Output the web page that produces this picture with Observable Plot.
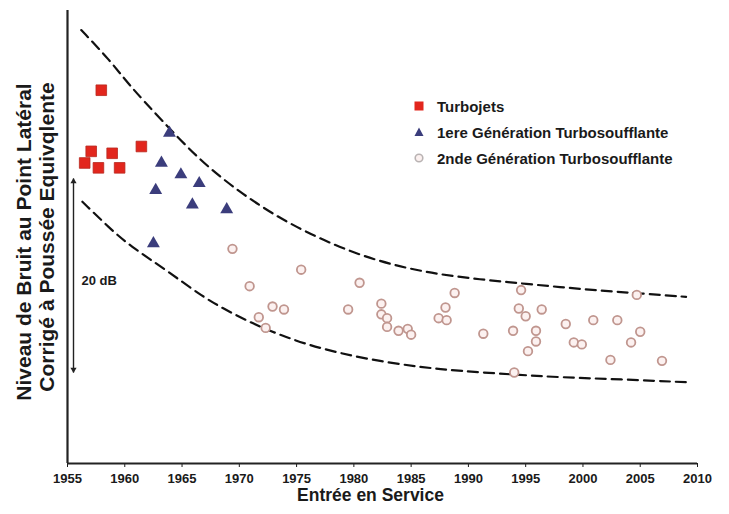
<!DOCTYPE html>
<html><head><meta charset="utf-8">
<script src="https://cdn.jsdelivr.net/npm/d3@7"></script>
<script src="https://cdn.jsdelivr.net/npm/@observablehq/plot@0.6"></script>
<style>
body{margin:0;background:#fff;}
#wrap{position:relative;width:729px;height:514px;font-family:"Liberation Sans",Arial,sans-serif;}
#legend{position:absolute;left:411px;top:93px;font-weight:bold;font-size:15px;color:#1a1a1a;}
.row{display:flex;align-items:center;height:26px;white-space:nowrap;}
.row svg{margin-right:10px;}
</style></head><body>
<div id="wrap"><div id="chart"></div><div id="legend"></div></div>
<script>
// Years on x, noise level (dB, arbitrary reference) on y
const seriesNames = ["Turbojets", "1ere Génération Turbosoufflante", "2nde Génération Turbosoufflante"];
const tickYears = [1955,1960,1965,1970,1975,1980,1985,1990,1995,2000,2005,2010];

const turbojetYear = [1957.95, 1957.07, 1958.9, 1961.45, 1956.5, 1957.7, 1959.55];
const turbojetDb   = [39.1, 32.8, 32.6, 33.3, 31.6, 31.1, 31.1];

const gen1Year = [1963.9, 1963.2, 1964.9, 1966.5, 1962.7, 1965.9, 1968.9, 1962.5];
const gen1Db   = [34.7, 31.6, 30.4, 29.5, 28.8, 27.3, 26.8, 23.3];

const gen2Year = [1969.4, 1975.4, 1970.9, 1980.5, 1972.9, 1973.9, 1979.5, 1971.7, 1972.3, 1982.4,
                  1982.4, 1982.9, 1982.9, 1983.9, 1984.7, 1985.0, 1988.0, 1987.4, 1988.1, 1988.8,
                  1991.3, 1994.6, 1994.4, 1995.0, 1996.4, 1993.9, 1995.9, 1995.9, 1995.2, 1994.0,
                  1998.5, 1999.2, 1999.9, 2000.9, 2003.0, 2005.0, 2004.2, 2002.4, 2006.9, 2004.7];
const gen2Db   = [22.75, 20.6, 18.9, 19.25, 16.8, 16.5, 16.5, 15.7, 14.6, 17.1,
                  16.0, 15.6, 14.7, 14.3, 14.5, 13.9, 16.7, 15.6, 15.4, 18.2,
                  14.0, 18.5, 16.6, 15.8, 16.5, 14.3, 14.3, 13.2, 12.2, 10.0,
                  15.0, 13.1, 12.9, 15.4, 15.4, 14.2, 13.1, 11.3, 11.2, 18.0];

const upperYear = [1956.2, 1958.7, 1960.4, 1963.0, 1966.5, 1970.0, 1973.5, 1977.0, 1980.5, 1984.0, 1987.5, 1991.0, 1994.5, 1998.0, 2001.5, 2005.0, 2009.0];
const upperDb   = [45.3, 42.2, 39.6, 36.3, 31.9, 28.6, 25.9, 23.8, 22.1, 20.9, 20.1, 19.6, 19.2, 18.8, 18.45, 18.15, 17.8];
const lowerYear = [1956.3, 1958.7, 1960.4, 1963.7, 1966.8, 1969.2, 1971.8, 1974.4, 1977.0, 1981.2, 1985.8, 1989.3, 1993.9, 1998.0, 2003.3, 2009.0];
const lowerDb   = [27.6, 24.85, 23.1, 20.5, 17.8, 16.2, 14.7, 13.5, 12.5, 11.35, 10.55, 10.15, 9.8, 9.5, 9.3, 9.0];

const spanDb = [10, 30];      // the "20 dB" scale bar
const spanLabel = "20 dB";
const xTitle = "Entrée en Service";
const yTitle1 = "Niveau de Bruit au Point Latéral";
const yTitle2 = "Corrigé à Poussée Equivqlente";

const zip = (xs, ys) => xs.map((x, i) => ({x, y: ys[i]}));
const turbojets = zip(turbojetYear, turbojetDb);
const gen1 = zip(gen1Year, gen1Db);
const gen2 = zip(gen2Year, gen2Db);
const upper = zip(upperYear, upperDb);
const lower = zip(lowerYear, lowerDb);

const C_RED = "#e2261d", C_TRI = "#3b3d7c", C_RING = "#c0968f", C_RINGFILL = "#fcf1f0";

const plot = Plot.plot({
  width: 729, height: 514,
  marginLeft: 67, marginRight: 32, marginTop: 10, marginBottom: 51,
  style: {fontFamily: "'Liberation Sans', Arial, sans-serif", fontWeight: "bold", background: "white", color: "#1a1a1a", overflow: "visible"},
  x: {domain: [1955, 2010]},
  y: {domain: [0.62, 47.32], axis: null},
  marks: [
    Plot.axisX({ticks: tickYears, tickFormat: d => String(d), tickSize: 4, tickPadding: 6, label: null, fontSize: 13, fontWeight: "bold", fill: "#1a1a1a"}),
    Plot.line(upper, {x: "x", y: "y", stroke: "#111", strokeWidth: 2.2, strokeDasharray: "10,6", curve: "basis"}),
    Plot.line(lower, {x: "x", y: "y", stroke: "#111", strokeWidth: 2.2, strokeDasharray: "10,6", curve: "basis"}),
    Plot.dot(gen2, {x: "x", y: "y", r: 4.3, symbol: "circle", stroke: C_RING, fill: C_RINGFILL, strokeWidth: 1.8}),
    Plot.dot(gen1, {x: "x", y: "y", r: 4.8, symbol: "triangle", fill: C_TRI, stroke: "none"}),
    Plot.dot(turbojets, {x: "x", y: "y", r: 6, symbol: "square", fill: C_RED, stroke: "#b8281f", strokeWidth: 0.8}),
    Plot.ruleX([1955], {stroke: "#222", strokeWidth: 2.2}),
    Plot.ruleY([0.62], {stroke: "#222", strokeWidth: 2.2}),
    // 20 dB scale bar
    Plot.link([{y1: spanDb[0], y2: spanDb[1]}], {x1: () => 1955, x2: () => 1955, y1: "y1", y2: "y2", dx: 6, stroke: "#222", strokeWidth: 1.4}),
    Plot.dot([spanDb[1]], {x: () => 1955, y: d => d, dx: 6, dy: 3, symbol: "triangle", r: 2.3, fill: "#222"}),
    Plot.dot([spanDb[0]], {x: () => 1955, y: d => d, dx: 6, dy: -3, symbol: "triangle", rotate: 180, r: 2.3, fill: "#222"}),
    Plot.text([spanLabel], {x: () => 1955, y: () => (spanDb[0] + spanDb[1]) / 2 - 0.5, dx: 14, textAnchor: "start", fontSize: 13, fontWeight: "bold", fill: "#1a1a1a"}),
    // axis titles
    Plot.text([xTitle], {frameAnchor: "bottom", dx: -12, dy: 37, fontSize: 17.5, fontWeight: "bold", fill: "#1a1a1a"}),
    Plot.text([yTitle1], {frameAnchor: "left", textAnchor: "middle", dx: -43, dy: 5, rotate: -90, fontSize: 21, fontWeight: "bold", fill: "#1a1a1a"}),
    Plot.text([yTitle2], {frameAnchor: "left", textAnchor: "middle", dx: -20, rotate: -90, fontSize: 21, fontWeight: "bold", fill: "#1a1a1a"})
  ]
});
document.getElementById("chart").appendChild(plot);

// Legend
const sym = [
  `<svg width="16" height="16"><rect x="3.5" y="3.5" width="9" height="9" fill="${C_RED}"/></svg>`,
  `<svg width="16" height="16"><path d="M8,3.5 L12.5,12 L3.5,12 Z" fill="${C_TRI}"/></svg>`,
  `<svg width="16" height="16"><circle cx="8" cy="8" r="3.8" fill="${C_RINGFILL}" stroke="#b9b3b3" stroke-width="1.6"/></svg>`
];
document.getElementById("legend").innerHTML = seriesNames.map((n, i) => `<div class="row">${sym[i]}<span>${n}</span></div>`).join("");
</script>
</body></html>
